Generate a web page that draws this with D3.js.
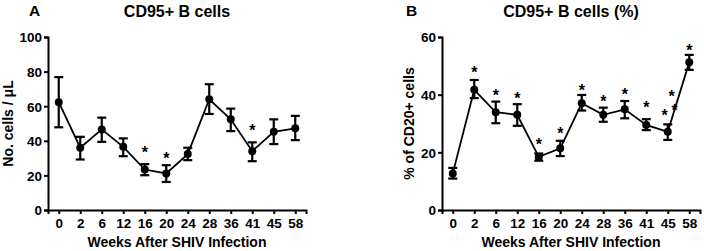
<!DOCTYPE html>
<html>
<head>
<meta charset="utf-8">
<script src="https://cdn.jsdelivr.net/npm/d3@7"></script>
<style>
  body { margin: 0; background: #fff; }
  text { font-family: Arial, "Liberation Sans", sans-serif; font-weight: bold; fill: #000; }
</style>
</head>
<body>
<div id="chart"></div>
<script>
// data
var weeks = ["0", "2", "6", "12", "16", "20", "24", "28", "36", "41", "45", "58"];

var cellsMean = [62.3, 36, 46.6, 36.5, 23.4, 21.1, 32.3, 64, 52.4, 34, 45.2, 47.2];
var cellsLow  = [47.8, 29.2, 39.4, 31.1, 20.1, 16.2, 28.8, 55.5, 45.6, 28.2, 38.1, 40.4];
var cellsHigh = [76.8, 42.3, 53.4, 41.4, 26.5, 25.9, 36, 72.7, 58.6, 39.1, 52.4, 54.4];

var pctMean = [12.7, 41.7, 33.9, 33, 18.4, 21.4, 37, 33, 34.9, 29.5, 27.1, 51.2];
var pctLow  = [10.9, 38.8, 30.1, 29.2, 17.1, 18.7, 34.5, 30.6, 31.8, 27.7, 24.3, 48.6];
var pctHigh = [14.6, 45.1, 37.6, 36.7, 19.6, 24, 39.9, 35.5, 37.8, 31.5, 29.7, 53.8];

// significance stars: week, height in data units, shift in fractions of a step
var starsA = [["16", 35.2, 0], ["20", 31.7, 0], ["41", 48.1, 0]];
var starsB = [["2", 49, 0], ["6", 41, 0], ["12", 39.9, 0], ["16", 23.9, 0], ["20", 27.7, 0],
              ["24", 42.8, 0], ["28", 38.9, 0], ["36", 41.4, 0], ["41", 36.8, 0],
              ["45", 34.0, -0.14], ["45", 40.6, 0.18], ["45", 35.7, 0.32], ["58", 56.7, 0]];

var yTicksA = [0, 20, 40, 60, 80, 100];
var yTicksB = [0, 20, 40, 60];

var w = 704, h = 251;
var svg = d3.select("#chart").append("svg")
  .attr("width", w)
  .attr("height", h);

function panel(opt) {
  var x = d3.scalePoint()
    .domain(weeks)
    .range([opt.left, opt.right])
    .padding(0.5);
  var y = d3.scaleLinear()
    .domain([0, d3.max(opt.yTicks)])
    .range([210, 37]);

  var g = svg.append("g");

  // axes
  var yAxis = g.append("g")
    .attr("transform", "translate(" + opt.left + ",0)")
    .call(d3.axisLeft(y).tickValues(opt.yTicks).tickSize(4).tickPadding(2));
  var xAxis = g.append("g")
    .attr("transform", "translate(0,210)")
    .call(d3.axisBottom(x).tickSize(4).tickPadding(4));
  [xAxis, yAxis].forEach(function (a) {
    a.select(".domain").attr("stroke", "#000").attr("stroke-width", 2);
    a.selectAll(".tick line").attr("stroke", "#000").attr("stroke-width", 2);
    a.selectAll(".tick text")
      .attr("fill", "#000")
      .style("font-size", "13.5px")
      .style("font-family", "Arial, 'Liberation Sans', sans-serif")
      .style("font-weight", "bold");
  });
  yAxis.selectAll(".tick text").attr("dy", "0.36em");

  // mean line
  var line = d3.line()
    .x(function (d, i) { return x(weeks[i]); })
    .y(function (d) { return y(d); });
  g.append("path")
    .datum(opt.mean)
    .attr("d", line)
    .attr("fill", "none")
    .attr("stroke", "#000")
    .attr("stroke-width", 1.8);

  // error bars
  var eb = g.selectAll(".eb")
    .data(weeks)
    .enter()
    .append("g");
  eb.append("line")
    .attr("x1", function (d) { return x(d); })
    .attr("x2", function (d) { return x(d); })
    .attr("y1", function (d, i) { return y(opt.low[i]); })
    .attr("y2", function (d, i) { return y(opt.high[i]); })
    .attr("stroke", "#000").attr("stroke-width", 2.2);
  ["low", "high"].forEach(function (k) {
    eb.append("line")
      .attr("x1", function (d) { return x(d) - 4.5; })
      .attr("x2", function (d) { return x(d) + 4.5; })
      .attr("y1", function (d, i) { return y(opt[k][i]); })
      .attr("y2", function (d, i) { return y(opt[k][i]); })
      .attr("stroke", "#000").attr("stroke-width", 2.2);
  });
  g.selectAll(".dot")
    .data(opt.mean)
    .enter()
    .append("circle")
    .attr("cx", function (d, i) { return x(weeks[i]); })
    .attr("cy", function (d) { return y(d); })
    .attr("r", 4)
    .attr("fill", "#000");

  // stars
  g.selectAll(".star")
    .data(opt.stars)
    .enter()
    .append("text")
    .attr("x", function (d) { return x(d[0]) + d[2] * x.step(); })
    .attr("y", function (d) { return y(d[1]) + 9; })
    .attr("text-anchor", "middle")
    .style("font-size", "16px")
    .text("*");

  // titles
  var cx = (opt.left + opt.right) / 2;
  g.append("text")
    .attr("x", cx).attr("y", 17)
    .attr("text-anchor", "middle")
    .style("font-size", "16px")
    .text(opt.title);
  g.append("text")
    .attr("x", opt.letterX).attr("y", 16)
    .style("font-size", "15.5px")
    .text(opt.letter);
  g.append("text")
    .attr("x", cx).attr("y", 247)
    .attr("text-anchor", "middle")
    .style("font-size", "14px")
    .text("Weeks After SHIV Infection");
  g.append("text")
    .attr("transform", "translate(" + opt.yTitleX + "," + y(d3.max(opt.yTicks) / 2) + ") rotate(-90)")
    .attr("text-anchor", "middle")
    .style("font-size", "14px")
    .text(opt.yTitle);
}

panel({
  left: 48, right: 306, yTicks: yTicksA,
  mean: cellsMean, low: cellsLow, high: cellsHigh, stars: starsA,
  title: "CD95+ B cells", letter: "A", letterX: 29,
  yTitle: "No. cells / \u03bcL", yTitleX: 13
});
panel({
  left: 442, right: 700, yTicks: yTicksB,
  mean: pctMean, low: pctLow, high: pctHigh, stars: starsB,
  title: "CD95+ B cells (%)", letter: "B", letterX: 406,
  yTitle: "% of CD20+ cells", yTitleX: 414
});
</script>
</body>
</html>
